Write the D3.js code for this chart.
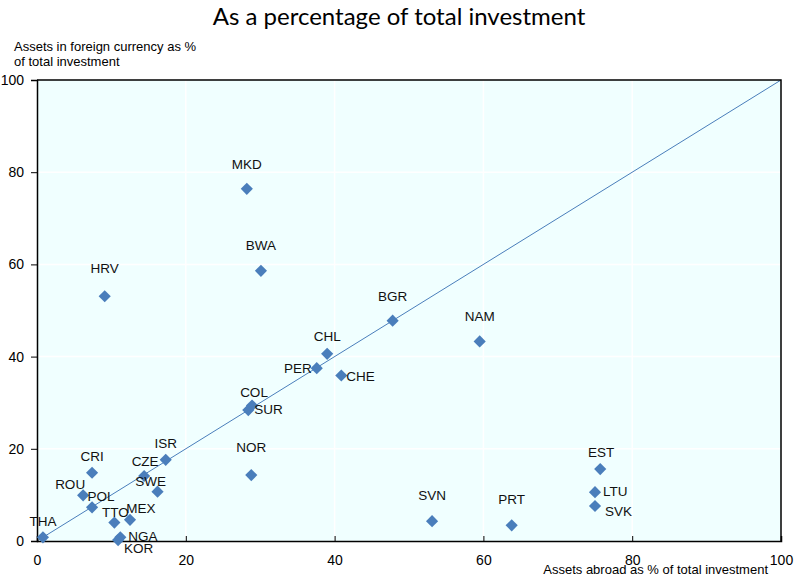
<!DOCTYPE html>
<html>
<head>
<meta charset="utf-8">
<script src="https://cdn.jsdelivr.net/npm/d3@7"></script>
<style>
  body { margin: 0; background: #fff; }
  svg text { font-family: "Liberation Sans", Arial, sans-serif; }
</style>
</head>
<body>
<svg id="chart" width="795" height="578"></svg>
<script>
// données
const countries = ["THA","CRI","ROU","POL","TTO","MEX","NGA","KOR","CZE","SWE","ISR","NOR","HRV","MKD","BWA","COL","SUR","PER","CHL","CHE","BGR","NAM","SVN","PRT","EST","LTU","SVK"];
const abroad  = [0.8, 7.4, 6.2, 7.4, 10.4, 12.5, 11.2, 10.9, 14.4, 16.2, 17.3, 28.8, 9.1, 28.2, 30.1, 28.9, 28.4, 37.6, 39.0, 40.9, 47.8, 59.5, 53.1, 63.8, 75.7, 75.0, 75.0];
const foreign = [0.8, 14.8, 9.9, 7.3, 4.0, 4.6, 0.8, 0.2, 14.1, 10.7, 17.6, 14.3, 53.1, 76.4, 58.6, 29.4, 28.4, 37.5, 40.6, 35.9, 47.8, 43.3, 4.3, 3.4, 15.6, 10.6, 7.6];
const ticks = [0, 20, 40, 60, 80, 100];

// placement des étiquettes (pas des données)
const labelPos = {
  THA: [0, -11, "middle"], CRI: [0, -12, "middle"], ROU: [-13, -6, "middle"], POL: [9, -6, "middle"],
  TTO: [1, -6, "middle"], MEX: [11, -7, "middle"], NGA: [8, 4, "start"], KOR: [6, 13, "start"],
  CZE: [1, -10, "middle"], SWE: [-7, -6, "middle"], ISR: [0, -12, "middle"], NOR: [0, -23, "middle"],
  HRV: [0, -23, "middle"], MKD: [0, -20, "middle"], BWA: [0, -21, "middle"], COL: [2, -8, "middle"],
  SUR: [6, 4, "start"], PER: [-5, 5, "end"], CHL: [0, -13, "middle"], CHE: [5, 5, "start"],
  BGR: [0, -20, "middle"], NAM: [0, -20, "middle"], SVN: [0, -21, "middle"], PRT: [0, -21, "middle"],
  EST: [1, -12, "middle"], LTU: [8, 4, "start"], SVK: [10, 10, "start"]
};

const svg = d3.select("#chart");
const x = d3.scaleLinear().domain([0, 100]).range([37, 781]);
const y = d3.scaleLinear().domain([0, 100]).range([541, 80]);

// titre
svg.append("text")
  .attr("x", 399).attr("y", 25)
  .attr("text-anchor", "middle")
  .style("font-family", "Lato, 'Open Sans', sans-serif")
  .style("font-size", "24px")
  .attr("fill", "#000")
  .text("As a percentage of total investment");

// fond
svg.append("rect")
  .attr("x", x(0)).attr("y", y(100))
  .attr("width", x(100) - x(0)).attr("height", y(0) - y(100))
  .attr("fill", "#f0ffff");

// grille
const grid = svg.append("g");
ticks.slice(1, -1).forEach(t => {
  grid.append("line").attr("x1", x(t)).attr("x2", x(t)).attr("y1", y(0)).attr("y2", y(100))
    .attr("stroke", "#fff").attr("stroke-width", 1.5);
  grid.append("line").attr("x1", x(0)).attr("x2", x(100)).attr("y1", y(t)).attr("y2", y(t))
    .attr("stroke", "#fff").attr("stroke-width", 1.5);
});

// diagonale 45°
svg.append("line")
  .attr("x1", x(0)).attr("y1", y(0)).attr("x2", x(100)).attr("y2", y(100))
  .attr("stroke", "#4a7ebb").attr("stroke-width", 1);

// axes
const yAxis = svg.append("g")
  .attr("transform", `translate(${x(0)},0)`)
  .call(d3.axisLeft(y).tickValues(ticks).tickSize(6).tickPadding(7));
const xAxis = svg.append("g")
  .attr("transform", `translate(0,${y(0)})`)
  .call(d3.axisBottom(x).tickValues(ticks).tickSize(-5).tickPadding(14));
[xAxis, yAxis].forEach(a => {
  a.select(".domain").attr("stroke", "#000").attr("stroke-width", 1.5);
  a.selectAll(".tick line").attr("stroke", "#000");
  a.selectAll(".tick text").style("font-size", "14px").attr("fill", "#000");
});
yAxis.selectAll(".tick").filter(d => d === 100).select("line").remove();
xAxis.selectAll(".tick").filter(d => d === 0 || d === 100).select("line").remove();

// bordure haut et droite
svg.append("path")
  .attr("d", `M${x(0)},${y(100)}H${x(100)}V${y(0)}`)
  .attr("fill", "none").attr("stroke", "#000").attr("stroke-width", 1.5);

// titres des axes
const yl = svg.append("text").attr("x", 14).attr("y", 51).style("font-size", "13px").attr("fill", "#000");
yl.append("tspan").text("Assets in foreign currency as %");
yl.append("tspan").attr("x", 14).attr("dy", 15).text("of total investment");

svg.append("text")
  .attr("x", 768).attr("y", 574)
  .attr("text-anchor", "end")
  .style("font-size", "13px").attr("fill", "#000")
  .text("Assets abroad as % of total investment");

// points
const data = countries.map((c, i) => ({ name: c, ax: abroad[i], fc: foreign[i] }));

svg.append("g").selectAll("rect")
  .data(data)
  .enter()
  .append("rect")
  .attr("x", -4.3).attr("y", -4.3)
  .attr("width", 8.6).attr("height", 8.6)
  .attr("transform", d => `translate(${x(d.ax)},${y(d.fc)}) rotate(45)`)
  .attr("fill", "#4a7ebb");

svg.append("g").selectAll("text")
  .data(data)
  .enter()
  .append("text")
  .attr("x", d => x(d.ax) + labelPos[d.name][0])
  .attr("y", d => y(d.fc) + labelPos[d.name][1])
  .attr("text-anchor", d => labelPos[d.name][2])
  .style("font-size", "13.5px")
  .attr("fill", "#111")
  .text(d => d.name);
</script>
</body>
</html>
